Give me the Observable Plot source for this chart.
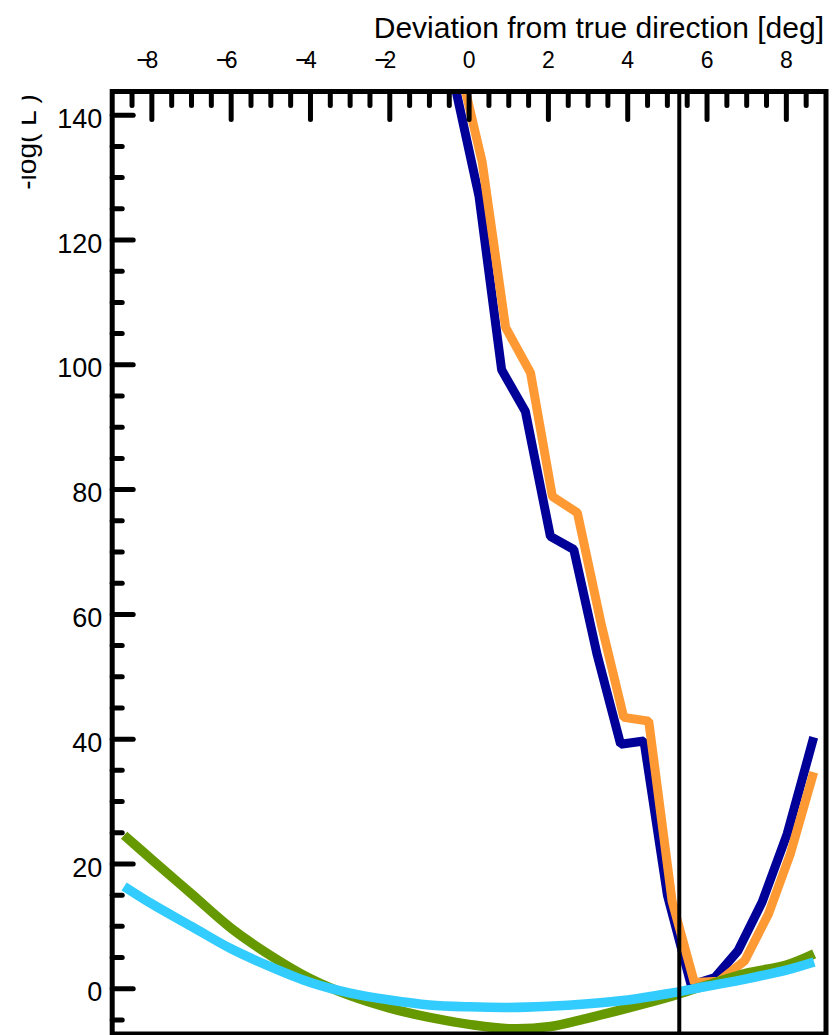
<!DOCTYPE html>
<html><head><meta charset="utf-8">
<script src="https://cdn.jsdelivr.net/npm/d3@7"></script>
<script src="https://cdn.jsdelivr.net/npm/@observablehq/plot@0.6"></script>
<style>body{margin:0;background:#fff}</style>
</head><body><div id="chart"></div>
<script>
// ---- data ----
const xBlue   = [-0.35, 0.25, 0.82, 1.42, 2.05, 2.64, 3.23, 3.82, 4.41, 5.0, 5.6, 6.2, 6.78, 7.39, 8.02, 8.69];
const yBlue   = [144.5, 127, 99.2, 92.5, 72.5, 70.4, 53.5, 39.2, 39.7, 15.0, 0.6, 1.8, 6.1, 13.9, 24.8, 40.3];
const xOrange = [-0.28, 0.33, 0.92, 1.55, 2.10, 2.73, 3.33, 3.90, 4.53, 5.12, 5.68, 6.3, 6.95, 7.55, 8.1, 8.69];
const yOrange = [149, 132.5, 106.0, 98.7, 78.9, 76.3, 58.5, 43.5, 42.9, 14.0, 1.0, 1.2, 4.5, 12.0, 21.6, 34.7];
const xSmooth = [-8.7, -8, -7, -6, -5, -4, -3, -2, -1, 0, 1, 2, 3, 4, 5, 6, 7, 8, 8.7];
const yGreen  = [24.6, 20.7, 15.2, 9.7, 5.3, 1.6, -1.1, -3.1, -4.6, -5.7, -6.4, -6.1, -4.7, -3.1, -1.4, 0.6, 2.5, 3.8, 5.6];
const yCyan   = [16.4, 13.6, 10.0, 6.4, 3.5, 1.0, -0.7, -1.8, -2.6, -2.9, -3.0, -2.8, -2.4, -1.8, -0.8, 0.4, 1.6, 3.0, 4.3];
const trueDirection = [5.3];
const xMajor = [-8, -6, -4, -2, 0, 2, 4, 6, 8];
const xMinor = d3.range(-17, 18).map(k => k / 2).filter(v => v % 2 !== 0);
const yMajor = [0, 20, 40, 60, 80, 100, 120, 140];
const yMinor = d3.range(-1, 28).map(k => k * 5).filter(v => v % 20 !== 0);
const xLabel = "Deviation from true direction [deg]";
const yLabel = "-log( L )";

const toRows = (xs, ys) => xs.map((x, i) => ({x, y: ys[i]}));
const blue = toRows(xBlue, yBlue);
const orange = toRows(xOrange, yOrange);
const green = toRows(xSmooth, yGreen);
const cyan = toRows(xSmooth, yCyan);

const tickShape = {draw(context, l) { context.moveTo(0, 0); context.lineTo(0, -l); }};
const font = "Liberation Sans, Arial, Helvetica, sans-serif";

const plot = Plot.plot({
  width: 837, height: 1035,
  marginLeft: 111.7, marginRight: 11.5, marginTop: 91, marginBottom: 1.5,
  x: {domain: [-9, 9], axis: null},
  y: {domain: [-7.25, 143.8], axis: null},
  style: {fontFamily: font, background: "white", color: "black", overflow: "visible"},
  marks: [
    Plot.line(blue, {x: "x", y: "y", stroke: "#000099", strokeWidth: 9, strokeLinejoin: "miter", strokeLinecap: "butt", clip: true}),
    Plot.line(orange, {x: "x", y: "y", stroke: "#FF9933", strokeWidth: 9, strokeLinejoin: "miter", strokeLinecap: "butt", clip: true}),
    Plot.line(green, {x: "x", y: "y", stroke: "#669900", strokeWidth: 9.5, curve: "catmull-rom", strokeLinecap: "butt", clip: true}),
    Plot.line(cyan, {x: "x", y: "y", stroke: "#33CCFF", strokeWidth: 9.5, curve: "catmull-rom", strokeLinecap: "butt", clip: true}),
    Plot.ruleX(trueDirection, {stroke: "black", strokeWidth: 4}),
    // inward ticks
    Plot.vectorX(xMajor, {x: d => d, frameAnchor: "top", length: 28, rotate: 180, anchor: "start", shape: tickShape, stroke: "black", strokeWidth: 5}),
    Plot.vectorX(xMinor, {x: d => d, frameAnchor: "top", length: 14, rotate: 180, anchor: "start", shape: tickShape, stroke: "black", strokeWidth: 5}),
    Plot.vectorY(yMajor, {y: d => d, frameAnchor: "left", length: 21, rotate: 90, anchor: "start", shape: tickShape, stroke: "black", strokeWidth: 5}),
    Plot.vectorY(yMinor, {y: d => d, frameAnchor: "left", length: 10, rotate: 90, anchor: "start", shape: tickShape, stroke: "black", strokeWidth: 5}),
    // y tick labels
    Plot.axisY(yMajor, {tickSize: 0, tickPadding: 10, fontSize: 27, dy: 4, label: null}),
    // x tick labels (digits centred on tick, minus overlapping to the left)
    Plot.text(xMajor, {x: d => d, text: d => String(Math.abs(d)), frameAnchor: "top", lineAnchor: "bottom", dy: -24, fontSize: 23}),
    Plot.text(xMajor.filter(d => d < 0), {x: d => d, text: () => "\u2212", textAnchor: "end", frameAnchor: "top", lineAnchor: "bottom", dy: -23, dx: 0.5, fontSize: 27}),
    // axis titles
    Plot.text([xLabel], {frameAnchor: "top-right", textAnchor: "end", lineAnchor: "bottom", dx: -2, dy: -53.7, fontSize: 30}),
    Plot.text([yLabel], {frameAnchor: "top-left", rotate: -90, textAnchor: "middle", lineAnchor: "bottom", dx: -76.7, dy: 50.5, fontSize: 28}),
    Plot.frame({stroke: "black", strokeWidth: 5})
  ]
});
// the reference's rotated y title is cut off at its left edge
d3.select(plot).append("rect").attr("x", 0).attr("y", 60).attr("width", 21.7).attr("height", 160).attr("fill", "white");
document.getElementById("chart").appendChild(plot);
</script>
</body></html>
